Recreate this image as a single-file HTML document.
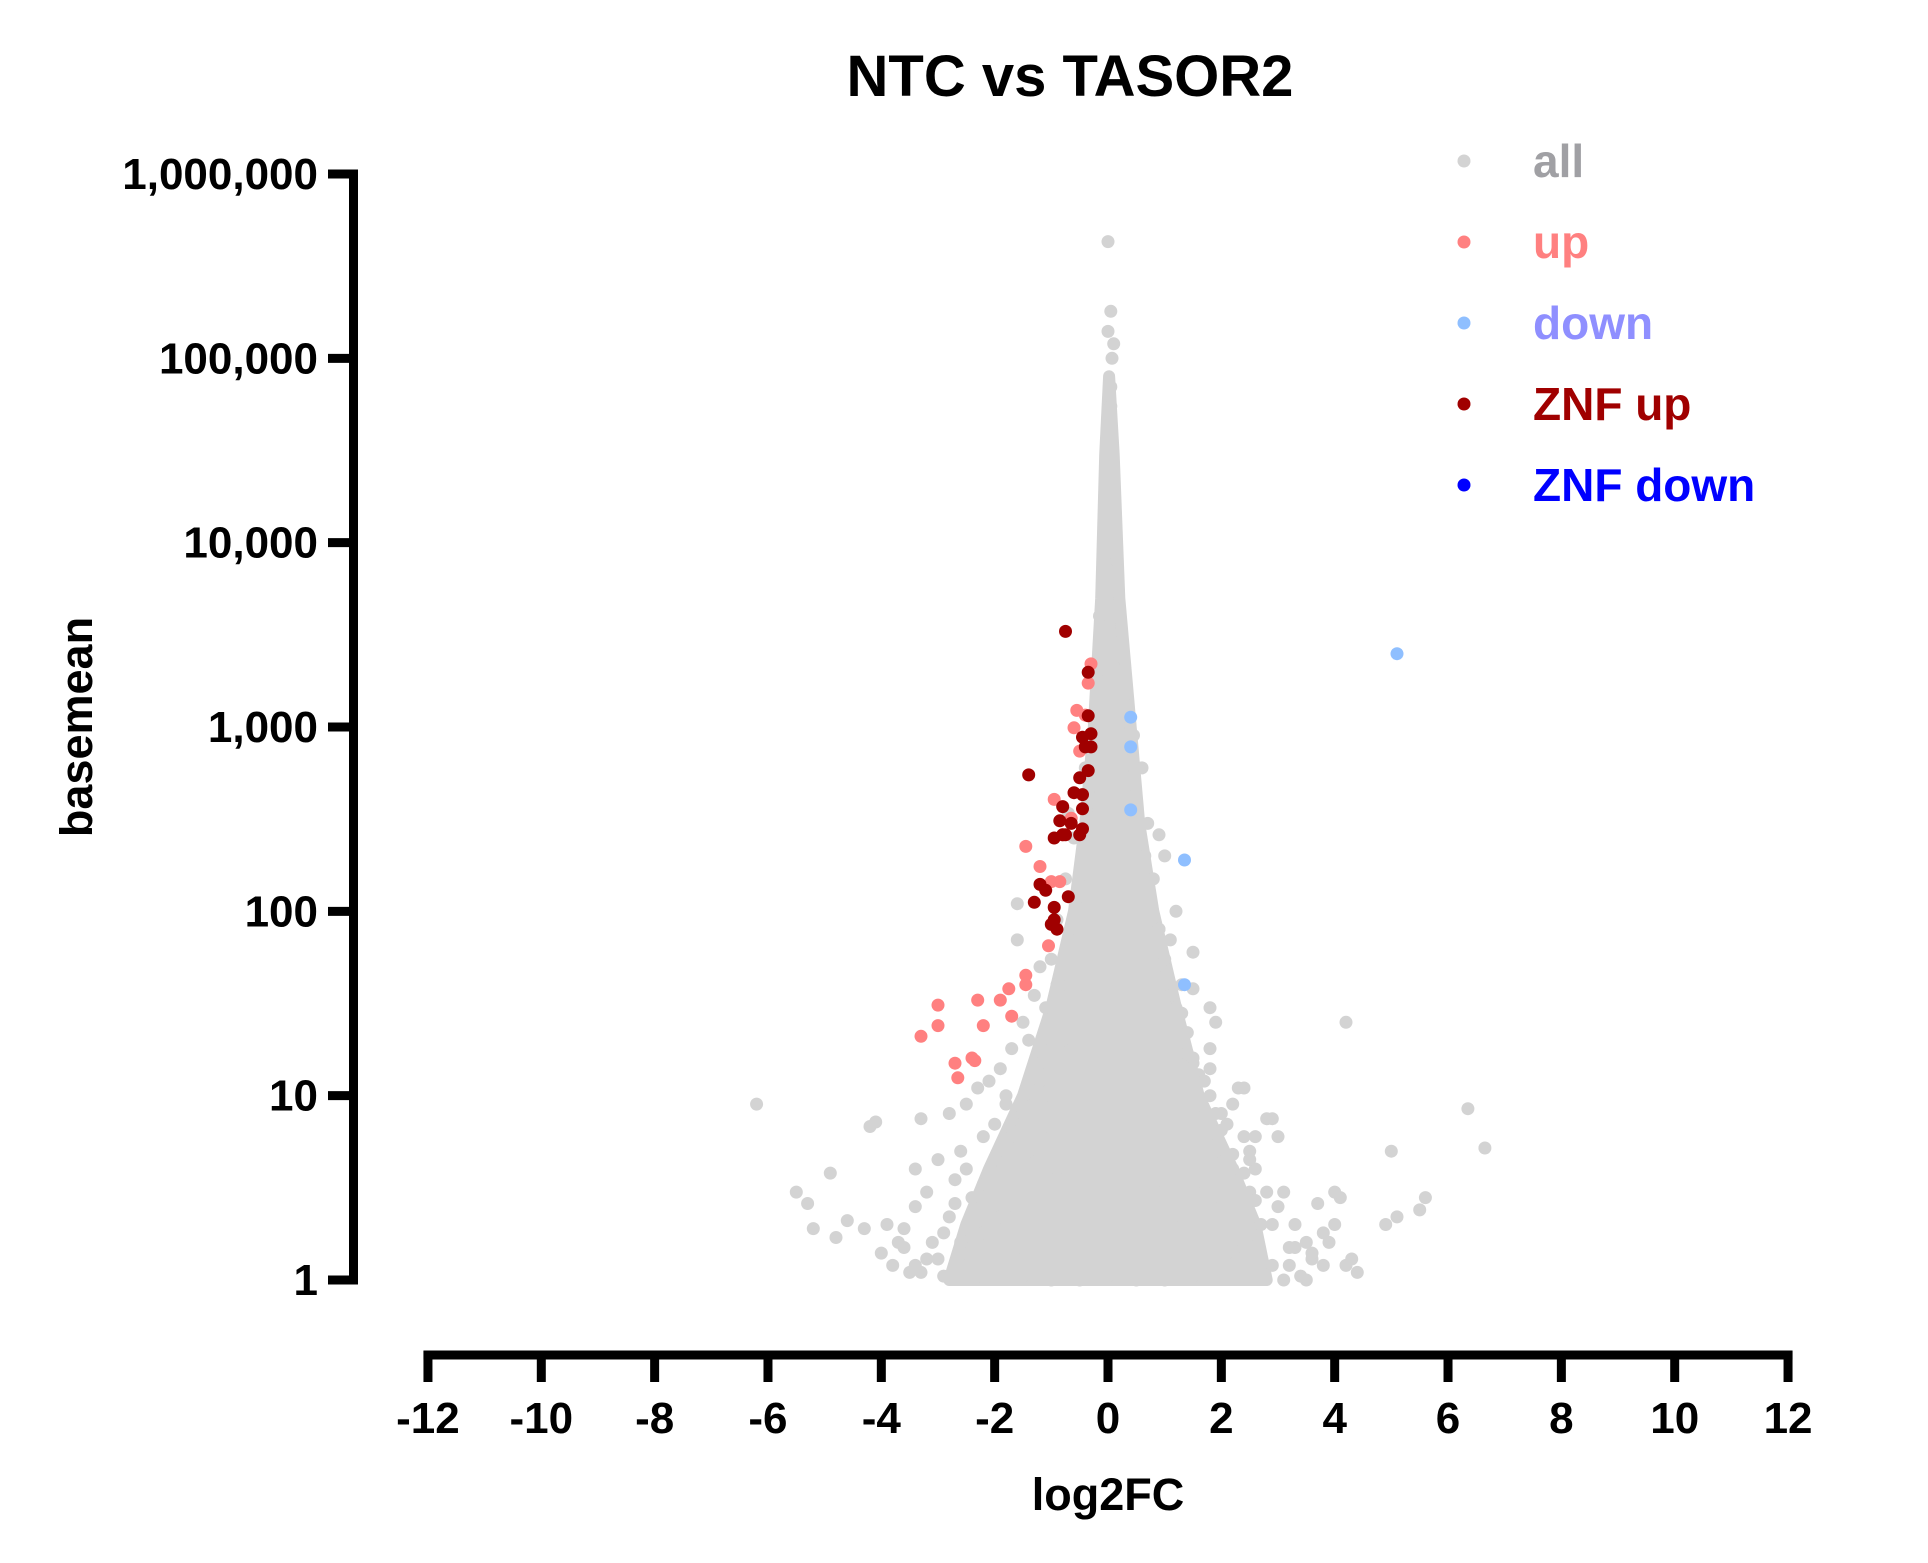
<!DOCTYPE html>
<html><head><meta charset="utf-8"><style>
html,body{margin:0;padding:0;background:#fff;}
svg{display:block;font-family:"Liberation Sans",Arial,sans-serif;font-weight:bold;}
</style></head><body>
<svg id="chart" width="1928" height="1563" viewBox="0 0 1928 1563" xmlns="http://www.w3.org/2000/svg">
<rect width="1928" height="1563" fill="#fff"/>
<text x="1070" y="96" font-size="58" text-anchor="middle" fill="#000">NTC vs TASOR2</text>
<g id="core"></g>
<g id="pts"></g>
<g id="axes"></g>
<text x="1108" y="1510" font-size="45" text-anchor="middle" fill="#000">log2FC</text>
<text transform="translate(92,727) rotate(-90)" font-size="45" text-anchor="middle" fill="#000">basemean</text>
<g>
<g><circle cx="1464" cy="161" r="6.5" fill="#d3d3d3"/><text x="1533" y="177" font-size="46" fill="#a0a0a4">all</text></g>
<g><circle cx="1464" cy="242" r="6.5" fill="#ff8080"/><text x="1533" y="258" font-size="46" fill="#ff8080">up</text></g>
<g><circle cx="1464" cy="323" r="6.5" fill="#8fbfff"/><text x="1533" y="339" font-size="46" fill="#8f8fff">down</text></g>
<g><circle cx="1464" cy="404" r="6.5" fill="#a00000"/><text x="1533" y="420" font-size="46" fill="#a00000">ZNF up</text></g>
<g><circle cx="1464" cy="485" r="6.5" fill="#0000ff"/><text x="1533" y="501" font-size="46" fill="#0000ff">ZNF down</text></g>
</g>
</svg>
<script>
const xTicks = [-12,-10,-8,-6,-4,-2,0,2,4,6,8,10,12];
const yTicks = [1,10,100,1000,10000,100000,1000000];
const yTickLabels = ["1","10","100","1,000","10,000","100,000","1,000,000"];
const coreFC = [-2.8,-2.5,-2.1,-1.5,-1.0,-0.6,-0.4,-0.25,-0.12,-0.05,0.02,0.1,0.2,0.4,0.55,0.8,1.2,1.6,2.2,2.6,2.8];
const coreBM = [1.0,2,4,10,30,100,300,1000,5000,30000,80000,30000,5000,1000,300,100,30,10,4,2,1.0];
const allFC = [-6.2,-5.5,-5.3,-4.9,-5.2,-4.8,-4.6,-4.3,-4.1,-4.2,-3.9,-4.0,-3.8,-3.6,-3.4,-3.2,-3.4,-3.5,-3.1,-3.0,-2.8,-2.7,-2.6,-3.3,-2.8,-2.5,-2.3,-2.1,-1.9,-1.7,-1.5,-1.3,-1.0,-1.6,-1.6,-1.2,-0.9,-0.75,-0.6,-0.7,-0.4,-0.15,0,0.05,0,0.1,0.07,0.05,0.05,0.7,0.4,0.9,1.0,0.8,1.3,1.2,1.5,1.5,1.8,1.9,1.4,1.5,1.6,2.2,2.0,2.4,2.5,2.6,2.8,2.9,3.0,2.3,2.4,1.8,2.5,2.8,3.1,3.0,3.3,3.5,3.6,3.2,3.8,4.0,3.9,4.1,4.0,3.7,4.2,4.4,4.3,3.5,3.1,2.7,4.2,5.0,5.1,4.9,5.5,5.6,6.35,6.65,-2.0,-1.6,-2.2,-1.8,-2.4,-1.4,-2.6,-3.0,-2.2,-2.0,-1.8,-1.2,-1.0,-2.5,-3.7,-3.3,1.8,2.1,2.0,1.7,2.7,2.4,1.9,3.3,0.5,1.0,1.5,-1.0,-0.5,-1.5,0,2.2,2.6,1.8,1.2,1.0,0.9,0.7,1.1,-1.4,-1.1,-0.8,-1.3,-1.0,-0.5,-0.3,0.6,0.45,-2.9,-2.3,2.9,3.4,-1.9,1.3,-0.9,0.85,
-3.2,-2.9,-2.7,-2.4,-2.2,-2.0,-1.9,-1.7,-1.5,-1.4,-1.2,-1.1,-0.9,-0.8,-0.7,-0.55,3.2,2.9,2.6,2.4,2.2,2.0,1.9,1.8,1.6,1.5,1.4,1.3,1.1,1.0,0.9,0.7,0.6,-3.4,-3.6,3.6,3.8,-2.5,2.5,-1.8,2.1,-1.3,1.7,-0.9,1.2,-0.5,0.65,0.45,-0.35,-0.2,0.3,0.15];
const allBM = [9,3,2.6,3.8,1.9,1.7,2.1,1.9,7.2,6.8,2,1.4,1.2,1.5,2.5,3,4,1.1,1.6,1.3,2.2,3.5,5,7.5,8,9,11,12,14,18,25,35,55,110,70,50,90,150,250,340,600,4000,430000,180000,140000,120000,100000,70000,55000,300,400,260,200,150,40,100,60,38,30,25,17,15,12,9,8,6,5,6,7.5,7.5,6,11,11,14,3,3,3,2.5,2,1.6,1.3,1.2,1.8,2,1.6,2.8,3,2.6,1.2,1.1,1.3,1,1,1.1,25,5,2.2,2,2.4,2.8,8.5,5.2,1.2,1.5,1.8,2.5,2.8,1.1,1.6,4.5,6,7,10,12,18,1.2,1.6,1.1,1.1,1.4,2.5,3,2,1.5,5,1.5,1,1,1.05,1,1,1.05,1.05,4,4,18,30,50,80,100,70,20,30,40,9,6,40,150,600,900,1.05,1.05,1.2,1.05,3.5,2.2,4,3,
1.3,1.8,2.6,1.7,3.3,4.5,2.2,6,8,5,15,10,25,20,45,70,1.5,2.0,2.7,3.8,4.8,6.5,8,10,13,16,22,28,35,55,80,130,200,1.2,1.9,1.4,1.2,4,4.5,9,7,14,12,40,25,120,200,350,600,2000,1500,8000];
const upFC = [-3.3,-3.0,-3.0,-2.7,-2.65,-2.4,-2.35,-2.3,-2.2,-1.9,-1.75,-1.7,-1.45,-1.45,-1.05,-1.45,-1.2,-1.0,-0.85,-0.95,-0.65,-0.6,-0.55,-0.35,-0.3,-0.8,-0.5,-0.4];
const upBM = [21,31,24,15,12.5,16,15.5,33,24,33,38,27,45,40,65,225,175,145,145,405,320,990,1230,1730,2200,260,740,1160];
const znfUpFC = [-0.75,-0.35,-0.35,-0.3,-0.45,-0.3,-0.4,-0.35,-0.5,-0.45,-0.6,-1.4,-0.8,-0.45,-0.65,-0.45,-0.5,-0.95,-0.8,-1.2,-1.1,-0.7,-1.3,-0.95,-1.0,-0.95,-0.9,-0.75,-0.85];
const znfUpBM = [3300,1980,1150,920,880,780,780,580,530,430,440,550,370,360,300,280,260,250,260,140,130,120,112,105,85,90,80,260,310];
const downFC = [5.1,0.4,0.4,0.4,1.35,1.35];
const downBM = [2500,1130,780,355,190,40];

const NS='http://www.w3.org/2000/svg';
function X(v){return 1108+56.67*v;}
function Y(b){return 1280-184.33*Math.log10(b);}
function mk(tag,attrs,parent){const e=document.createElementNS(NS,tag);for(const k in attrs)e.setAttribute(k,attrs[k]);parent.appendChild(e);return e;}

const core=document.getElementById('core');
let d='';
for(let i=0;i<coreFC.length;i++){d+=(i?'L':'M')+X(coreFC[i]).toFixed(1)+','+Y(coreBM[i]).toFixed(1);}
d+='Z';
const cp=mk('path',{d:d,fill:'#d3d3d3',stroke:'#d3d3d3','stroke-width':12,'stroke-linejoin':'round'},core);



const pts=document.getElementById('pts');
function series(fc,bm,color,name){
  for(let i=0;i<fc.length;i++){
    const c=mk('circle',{cx:X(fc[i]).toFixed(1),cy:Y(bm[i]).toFixed(1),r:6.5,fill:color},pts);
    
    
  }
}
series(allFC,allBM,'#d3d3d3','point-all');
series(upFC,upBM,'#ff8080','point-up');
series(znfUpFC,znfUpBM,'#a00000','point-znf-up');
series(downFC,downBM,'#8fbfff','point-down');

const ax=document.getElementById('axes');
const yl=mk('line',{x1:353.5,y1:Y(1000000)-4.5,x2:353.5,y2:Y(1)+4.5,stroke:'#000','stroke-width':9},ax);


for(let i=0;i<yTicks.length;i++){
  const y=Y(yTicks[i]);
  const t=mk('line',{x1:328,y1:y,x2:358,y2:y,stroke:'#000','stroke-width':9},ax);
  
  
  const l=mk('text',{x:318,y:y+15,'font-size':44,'text-anchor':'end',fill:'#000'},ax);
  l.textContent=yTickLabels[i];
  
  
}
const xl=mk('line',{x1:X(-12)-4.5,y1:1355,x2:X(12)+4.5,y2:1355,stroke:'#000','stroke-width':9},ax);


for(let i=0;i<xTicks.length;i++){
  const x=X(xTicks[i]);
  const t=mk('line',{x1:x,y1:1351,x2:x,y2:1382,stroke:'#000','stroke-width':9},ax);
  
  
  const l=mk('text',{x:x,y:1433,'font-size':44,'text-anchor':'middle',fill:'#000'},ax);
  l.textContent=String(xTicks[i]);
  
  
}
</script>
</body></html>
